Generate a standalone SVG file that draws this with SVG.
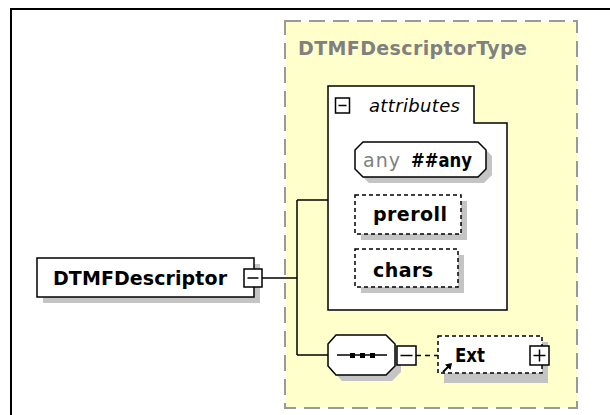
<svg xmlns="http://www.w3.org/2000/svg" width="610" height="415" viewBox="0 0 610 415">
<style>
.frame{fill:none;stroke:#000;stroke-width:2}
.shadow{fill:#c4c4c4;stroke:none}
.box{fill:#fff;stroke:#000;stroke-width:1.5}
.opt{fill:#fff;stroke:#000;stroke-width:1.5;stroke-dasharray:4 3}
.conn{fill:none;stroke:#000;stroke-width:1.5}
.b{font-family:"DejaVu Sans",Verdana,sans-serif;font-weight:bold;font-size:19px;fill:#000}
.n{font-family:"DejaVu Sans",Verdana,sans-serif;font-size:19px}
</style>
<rect width="610" height="415" fill="#fff"/>
<path class="frame" d="M11,415 V9 H610"/>
<g id="DTMFDescriptorType">
<rect x="285" y="21" width="292" height="387" fill="#ffffcc" stroke="#999" stroke-width="2" stroke-dasharray="16 8"/>
<text x="298" y="55" class="b" style="fill:#808080" textLength="229">DTMFDescriptorType</text>
</g>
<g id="attributes">
<path class="box" d="M328,86 H474 V123 H507 V310 H328 Z"/>
<rect class="box" x="335.5" y="98" width="14" height="15"/>
<line x1="338.5" y1="105.5" x2="346.5" y2="105.5" stroke="#000" stroke-width="1.5"/>
<text x="369" y="112" class="n" style="font-style:italic;font-size:18px" textLength="91">attributes</text>
</g>
<g id="any">
<polygon class="shadow" points="369,148 484,148 492,156 492,175 484,183 369,183 361,175 361,156"/>
<polygon class="box" points="363,142 478,142 486,150 486,169 478,177 363,177 355,169 355,150"/>
<text x="363" y="167" class="n" style="fill:#808080" textLength="37">any</text>
<text x="411" y="167" class="b" textLength="61" lengthAdjust="spacingAndGlyphs">##any</text>
</g>
<g id="preroll">
<rect class="shadow" x="361" y="201" width="106" height="39"/>
<rect class="opt" x="355" y="195" width="106" height="39"/>
<text x="373" y="221" class="b" textLength="74">preroll</text>
</g>
<g id="chars">
<rect class="shadow" x="361" y="255" width="103" height="38"/>
<rect class="opt" x="355" y="249" width="103" height="38"/>
<text x="373" y="277" class="b" textLength="60">chars</text>
</g>
<g id="DTMFDescriptor">
<rect class="shadow" x="43" y="264" width="217" height="39"/>
<rect class="box" x="37" y="258" width="217" height="39"/>
<text x="53" y="285" class="b" textLength="174">DTMFDescriptor</text>
<rect class="box" x="244" y="269" width="18" height="18"/>
<line x1="247.5" y1="278" x2="258.5" y2="278" stroke="#000" stroke-width="1.5"/>
</g>
<g id="sequence">
<polygon class="shadow" points="342,341 392,341 401,350 401,372 392,381 342,381 334,372 334,350"/>
<polygon class="box" points="336,335 386,335 395,344 395,366 386,375 336,375 328,366 328,344"/>
<line x1="337" y1="355" x2="387" y2="355" stroke="#000" stroke-width="1.5"/>
<rect x="350" y="353" width="5" height="5" fill="#000"/>
<rect x="360" y="353" width="5" height="5" fill="#000"/>
<rect x="370" y="353" width="5" height="5" fill="#000"/>
<rect class="box" x="397" y="346" width="19" height="19"/>
<line x1="400.5" y1="355.5" x2="412.5" y2="355.5" stroke="#000" stroke-width="1.5"/>
</g>
<g id="Ext">
<rect class="shadow" x="444" y="342" width="104" height="41"/>
<rect class="opt" x="438" y="336" width="104" height="37"/>
<text x="455" y="362" class="b" textLength="30" lengthAdjust="spacingAndGlyphs">Ext</text>
<rect class="box" x="530" y="346" width="19" height="19"/>
<line x1="533.5" y1="355.5" x2="545.5" y2="355.5" stroke="#000" stroke-width="1.5"/>
<line x1="539.5" y1="349.5" x2="539.5" y2="361.5" stroke="#000" stroke-width="1.5"/>
<line x1="443" y1="372" x2="449" y2="366" stroke="#000" stroke-width="2"/>
<polygon points="452,363 445,364.5 450.5,370" fill="#000"/>
</g>
<g id="connectors">
<path class="conn" d="M262,278 H297 M297,200 V355 M297,200 H328 M297,355 H328"/>
<line x1="416" y1="355.5" x2="438" y2="355.5" stroke="#000" stroke-width="1.5" stroke-dasharray="5 4"/>
</g>
</svg>
